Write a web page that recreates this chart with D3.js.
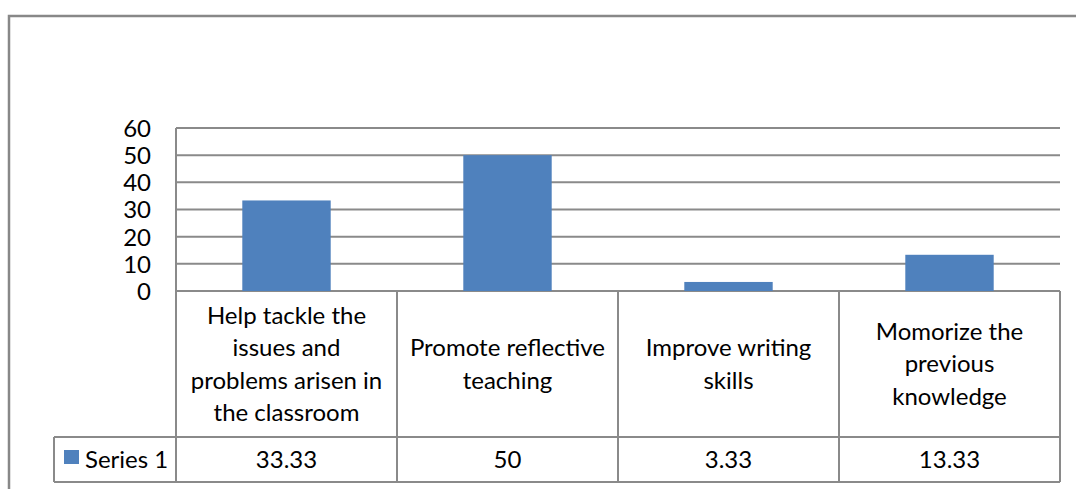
<!DOCTYPE html>
<html><head><meta charset="utf-8">
<script src="https://cdn.jsdelivr.net/npm/d3@7"></script>
<style>html,body{margin:0;padding:0;background:#fff;}svg{display:block;}</style>
</head><body>
<svg id="c" width="1076" height="489"></svg>
<script>
const categories = [
  "Help tackle the\nissues and\nproblems arisen in\nthe classroom",
  "Promote reflective\nteaching",
  "Improve writing\nskills",
  "Momorize the\nprevious\nknowledge"
];
const seriesName = "Series 1";
const values = [33.33, 50, 3.33, 13.33];
const valueLabels = ["33.33", "50", "3.33", "13.33"];
const yTicks = [0, 10, 20, 30, 40, 50, 60];

const FONT = "Lato, 'Open Sans', sans-serif";
const FS = 24;
const GRID = "#8a8a8a";
const svg = d3.select("#c");

const plotL = 176, plotR = 1060, plotT = 128, plotB = 291;
const headB = 437, rowB = 482, legL = 54;

const x = d3.scaleBand().domain(d3.range(categories.length)).range([plotL, plotR]).paddingInner(0).paddingOuter(0);
const y = d3.scaleLinear().domain([0, 60]).range([plotB, plotT]);

// outer border
svg.append("path").attr("d", `M9,489 L9,16 L1076,16`).attr("fill","none").attr("stroke","#888").attr("stroke-width",2.5);

// gridlines
const yAxis = d3.axisLeft(y).tickValues(yTicks).tickSize(0).tickPadding(0);
svg.append("g").selectAll("line").data(yTicks).join("line")
  .attr("x1", plotL).attr("x2", plotR)
  .attr("y1", d => y(d)).attr("y2", d => y(d))
  .attr("stroke", GRID).attr("stroke-width", 2);

// tick labels
const ax = svg.append("g").attr("transform", `translate(151,0)`).call(yAxis);
ax.select(".domain").remove();
ax.selectAll("text").attr("font-family", FONT).attr("font-size", FS).attr("fill", "#000").attr("dy", "0.35em");

// bars
const bw = x.bandwidth() * 0.4;
svg.append("g").selectAll("rect").data(values).join("rect")
  .attr("x", (d,i) => x(i) + x.bandwidth()/2 - bw/2)
  .attr("width", bw)
  .attr("y", d => y(d))
  .attr("height", d => y(0) - y(d))
  .attr("fill", "#4F81BD");

// table lines
const tl = svg.append("g").attr("stroke", GRID).attr("stroke-width", 2);
tl.append("line").attr("x1", plotL).attr("x2", plotL).attr("y1", plotT).attr("y2", rowB);
categories.forEach((c,i) => {
  const xr = x(i) + x.bandwidth();
  tl.append("line").attr("x1", xr).attr("x2", xr).attr("y1", plotB).attr("y2", rowB);
});
tl.append("line").attr("x1", legL).attr("x2", legL).attr("y1", headB).attr("y2", rowB);
tl.append("line").attr("x1", legL).attr("x2", plotR).attr("y1", headB).attr("y2", headB);
tl.append("line").attr("x1", legL).attr("x2", plotR).attr("y1", rowB).attr("y2", rowB);

// header labels
const lh = 32.3;
categories.forEach((c,i) => {
  const lines = c.split("\n");
  const cx = x(i) + x.bandwidth()/2;
  const cy = (plotB + headB)/2;
  const t = svg.append("text").attr("font-family", FONT).attr("font-size", FS).attr("text-anchor","middle").attr("fill","#000");
  lines.forEach((ln,k) => {
    t.append("tspan").attr("x", cx).attr("y", cy + (k - (lines.length-1)/2)*lh).attr("dy","0.35em").text(ln);
  });
});

// data row
const ry = (headB + rowB)/2;
values.forEach((v,i) => {
  svg.append("text").attr("x", x(i) + x.bandwidth()/2).attr("y", ry).attr("dy","0.35em")
    .attr("font-family", FONT).attr("font-size", FS).attr("text-anchor","middle").text(valueLabels[i]);
});
svg.append("rect").attr("x", 64).attr("y", 450).attr("width", 15).attr("height", 14).attr("fill", "#4F81BD");
svg.append("text").attr("x", 85).attr("y", ry).attr("dy","0.35em").attr("font-family", FONT).attr("font-size", FS).text(seriesName);
</script>
</body></html>
